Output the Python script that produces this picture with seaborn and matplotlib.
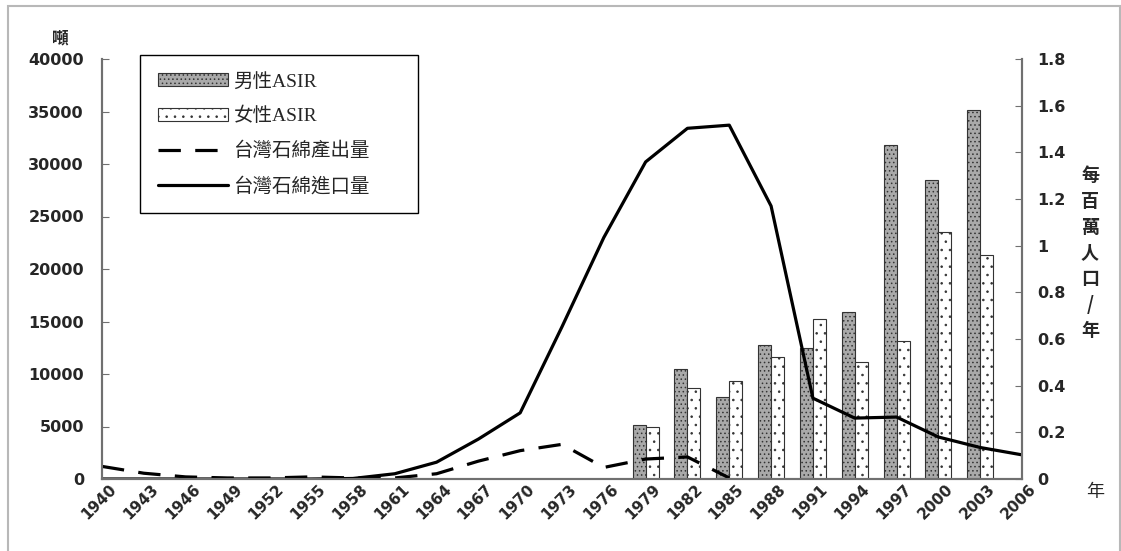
import numpy as np
import pandas as pd
import matplotlib
matplotlib.use("Agg")
import matplotlib.pyplot as plt
import matplotlib.patches as mpatches
import matplotlib.transforms as mtransforms
from matplotlib.lines import Line2D
from matplotlib.ticker import FuncFormatter
import seaborn as sns

# category axis (every 3 years)
years = [1940, 1943, 1946, 1949, 1952, 1955, 1958, 1961, 1964, 1967, 1970, 1973,
         1976, 1979, 1982, 1985, 1988, 1991, 1994, 1997, 2000, 2003, 2006]

# asbestos import / production in Taiwan (tons)
import_tons = [0, 0, 0, 0, 0, 0, 50, 500, 1600, 3800, 6300, 14500,
               23000, 30200, 33400, 33700, 26000, 7700, 5800, 5900, 4000, 3000, 2300]
output_tons = [1200, 550, 200, 100, 100, 200, 100, 100, 500, 1700, 2700, 3300,
               1100, 1900, 2100, 100, np.nan, np.nan, np.nan, np.nan, np.nan, np.nan, np.nan]

# ASIR per million per year
asir_years = [1979, 1982, 1985, 1988, 1991, 1994, 1997, 2000, 2003]
male_asir = [0.23, 0.47, 0.35, 0.575, 0.56, 0.715, 1.43, 1.28, 1.58]
female_asir = [0.225, 0.39, 0.42, 0.525, 0.685, 0.50, 0.59, 1.06, 0.96]

lbl_male = "男性ASIR"
lbl_female = "女性ASIR"
lbl_out = "台灣石綿產出量"
lbl_imp = "台灣石綿進口量"

sns.set_style("white")
plt.rcParams["font.family"] = ["DejaVu Sans", "Noto Sans CJK TC"]
plt.rcParams["hatch.linewidth"] = 0.6
cjk = ["Noto Sans CJK TC", "DejaVu Sans"]
legfont = ["Liberation Serif", "Noto Sans CJK TC"]

male_face, female_face, bar_edge = "#a9a9a9", "white", "#333333"
male_hatch, female_hatch = "....", ".."

W, H = 1121, 551
fig = plt.figure(figsize=(W / 100, H / 100), dpi=100)
ax = fig.add_axes([102 / W, 1 - 479 / H, 920 / W, 420 / H])
ax2 = ax.twinx()

# bars (right axis)
df_bars = pd.DataFrame({
    "year": asir_years * 2,
    "asir": male_asir + female_asir,
    "sex": [lbl_male] * len(asir_years) + [lbl_female] * len(asir_years),
})
sns.barplot(data=df_bars, x="year", y="asir", hue="sex", native_scale=True,
            width=0.62, palette=[male_face, female_face], ax=ax2, legend=False,
            saturation=1)
n = len(asir_years)
for i, p in enumerate(ax2.patches[:2 * n]):
    p.set_hatch(male_hatch if i < n else female_hatch)
    p.set_edgecolor(bar_edge)
    p.set_linewidth(0.8)

# lines (left axis)
df_lines = pd.DataFrame({"year": years, "imp": import_tons, "out": output_tons})
sns.lineplot(data=df_lines, x="year", y="imp", ax=ax, color="black", lw=2.3)
sns.lineplot(data=df_lines, x="year", y="out", ax=ax, color="black", lw=2.3)
ax.lines[-1].set_dashes((7, 4.5))
ax.set_zorder(ax2.get_zorder() + 1)
ax.patch.set_visible(False)

ax.set_xlim(1940, 2006)
ax.set_ylim(0, 40000)
ax2.set_ylim(0, 1.8)
ax.set_xticks(years)
ax.set_yticks(np.arange(0, 40001, 5000))
ax2.set_yticks(np.arange(0, 1.81, 0.2))
ax2.yaxis.set_major_formatter(FuncFormatter(lambda v, _: f"{v:g}"))
for a in (ax, ax2):
    a.set_xlabel("")
    a.set_ylabel("")
    for s in a.spines.values():
        s.set_color("#707070")
        s.set_linewidth(1.5)
    a.spines["top"].set_visible(False)

ax.tick_params(axis="y", direction="in", length=5, color="#707070", pad=13,
               labelsize=11.5)
ax2.tick_params(axis="y", direction="in", length=5, color="#707070", pad=11,
                labelsize=11.5)
ax.tick_params(axis="x", direction="in", length=5, color="#707070", pad=2,
               labelsize=11)
for t in ax.get_yticklabels() + ax2.get_yticklabels():
    t.set_fontweight("bold")
offset = mtransforms.ScaledTranslation(5 / 72, 0, fig.dpi_scale_trans)
for t in ax.get_xticklabels():
    t.set_fontweight("bold")
    t.set_rotation(45)
    t.set_ha("right")
    t.set_va("top")
    t.set_rotation_mode("anchor")
    t.set_transform(t.get_transform() + offset)

# axis titles
fig.text(60 / W, 1 - 38 / H, "噸", family=cjk, fontsize=12, fontweight="bold",
         ha="center", va="center")
fig.text(1095 / W, 1 - 492 / H, "年", family=cjk, fontsize=13,
         ha="center", va="center")
fig.text(1090 / W, 1 - 253 / H, "\n".join("每百萬人口/年"), family=cjk,
         fontsize=13, fontweight="bold", ha="center", va="center", linespacing=1.45)

# legend
handles = [
    mpatches.Patch(facecolor=male_face, edgecolor=bar_edge, hatch=male_hatch, lw=0.8),
    mpatches.Patch(facecolor=female_face, edgecolor=bar_edge, hatch=female_hatch, lw=0.8),
    Line2D([], [], color="black", lw=2.3, dashes=(7, 4.5)),
    Line2D([], [], color="black", lw=2.3),
]
leg = ax.legend(handles, [lbl_male, lbl_female, lbl_out, lbl_imp],
                loc="upper left", bbox_to_anchor=(140 / W, 1 - 212 / H, 278 / W, 157 / H),
                bbox_transform=fig.transFigure, mode="expand",
                frameon=True, fancybox=False, edgecolor="black", framealpha=1,
                prop={"family": legfont, "size": 14},
                handlelength=3.6, handleheight=0.6, handletextpad=0.3,
                labelspacing=0.85, borderpad=0.9, borderaxespad=0)
leg.get_frame().set_linewidth(1.0)

# outer frame of chart area
fig.add_artist(mpatches.Rectangle((8 / W, -0.02), 1112 / W, 1 - 6 / H + 0.02,
                                  transform=fig.transFigure, fill=False,
                                  edgecolor="#b8b8b8", lw=1.5))

fig.savefig("out.png", dpi=100)
